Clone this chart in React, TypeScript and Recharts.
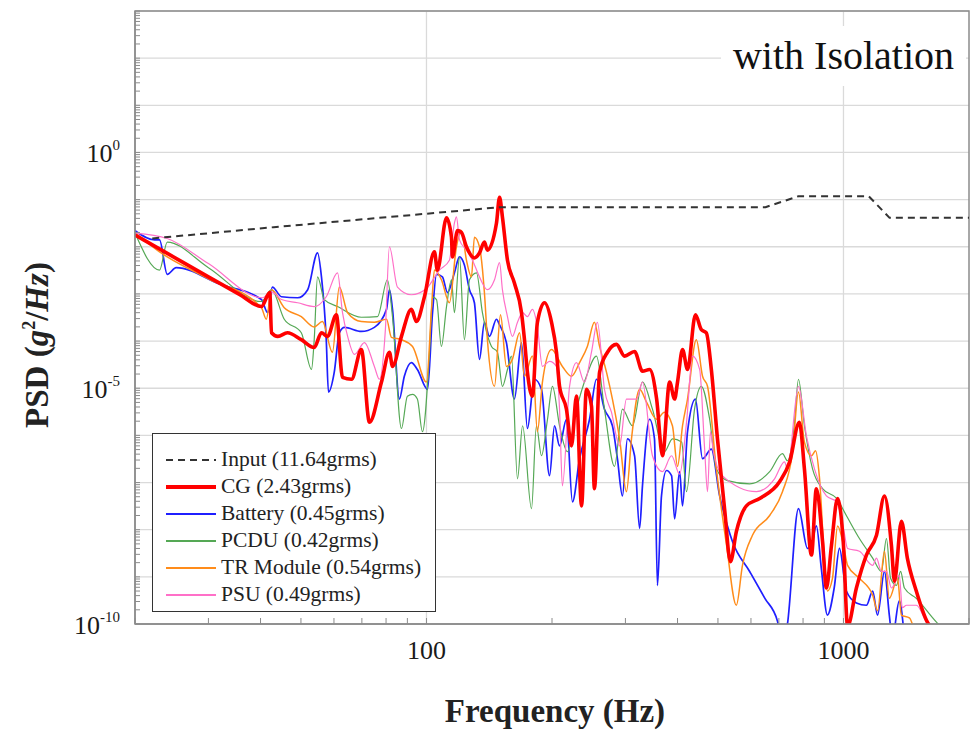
import React from 'react';
import { LineChart, Line, XAxis, YAxis, CartesianGrid, Legend, ReferenceArea } from 'recharts';

const FONT = "'Liberation Serif', 'Times New Roman', serif";
type Pt = [number, number];

// ---- data: [frequency Hz, PSD g^2/Hz] ----
const INPUT: Pt[] = [[22, 0.015], [43, 0.026], [150, 0.069], [650, 0.069], [780, 0.118], [1150, 0.118], [1290, 0.041], [2000, 0.041]];

const CG: Pt[] = [[20, 1.78e-2], [24.2, 6.8e-3], [30, 2.3e-3], [35.6, 9.8e-4], [40.2, 5.4e-4], [42.1, 1.07e-3], [42.5, 1.5e-4], [44.0, 1.26e-4], [46.4, 1.5e-4], [50.1, 1.07e-4], [53.8, 7.3e-5], [56.0, 1.5e-4], [57.9, 1.26e-4], [60.8, 3.6e-4], [62.9, 1.7e-5], [66.1, 1.55e-5], [69.8, 6.6e-5], [73.0, 1.9e-6], [78.0, 1.35e-5], [81.5, 5.8e-5], [82.9, 2.9e-5], [87.1, 1.26e-4], [92.0, 4.7e-4], [94.6, 2.6e-4], [98.9, 8.7e-4], [104.5, 7.8e-3], [106.2, 3.2e-3], [111.7, 4.1e-2], [114.8, 1.6e-2], [115.4, 6.1e-3], [118.7, 2.2e-2], [121.3, 2.0e-2], [124.7, 1.0e-2], [130.3, 5.8e-3], [134, 7.4e-3], [137.7, 1.26e-2], [140, 8.5e-3], [147.2, 3.2e-2], [149.7, 0.112], [152.1, 4.3e-2], [156.4, 5.2e-3], [162.5, 1.7e-3], [169, 4.0e-4], [171.8, 1.07e-4], [174.6, 2.2e-5], [179.5, 6.8e-6], [184.5, 2.5e-4], [191.9, 6.5e-4], [199.5, 2.5e-4], [205, 5.8e-5], [208.5, 1.1e-5], [216.6, 3.6e-6], [222.7, 6.0e-7], [229, 6.8e-6], [235.4, 3.2e-8], [241.9, 9.5e-6], [248.7, 4.2e-6], [252.8, 7.4e-8], [260.1, 2.2e-5], [271.7, 5.8e-5], [285.6, 8.5e-5], [298.5, 4.8e-5], [315.5, 6.0e-5], [329.6, 2.3e-5], [342.8, 2.5e-5], [356.4, 5.9e-6], [368.1, 3.7e-7], [382.9, 1.35e-5], [393.6, 5.9e-6], [400, 1.35e-5], [411.2, 6.6e-5], [422.7, 2.5e-5], [441.6, 3.6e-4], [456.2, 1.75e-4], [469, 1.5e-4], [482.1, 2.5e-5], [498.7, 8.4e-7], [518.6, 2.8e-8], [535.8, 2.1e-9], [553.5, 9.1e-9], [585.1, 3.2e-8], [629.6, 4.6e-8], [703.2, 1.05e-7], [743, 2.75e-7], [784, 1.9e-6], [806, 1.95e-7], [838, 2.9e-9], [861, 7.4e-8], [891, 5.6e-9], [910, 5.8e-10], [936, 4.7e-9], [968, 4.6e-8], [1000, 4.7e-9], [1023, 9e-11], [1074, 5.8e-10], [1135, 2.9e-9], [1200, 7.6e-9], [1254, 5.2e-8], [1303, 4.7e-9], [1325, 8.1e-10], [1377, 1.5e-8], [1423, 2.5e-9], [1495, 5.0e-10], [1581, 1.2e-10], [1650, 7e-11]];

const BATTERY: Pt[] = [[20, 2.2e-2], [22.3, 1.4e-2], [22.9, 1.4e-2], [23.9, 2.6e-3], [25.1, 3.6e-3], [32, 1.6e-3], [40.2, 7.6e-4], [41.6, 4.0e-4], [42.7, 1.4e-3], [44.9, 8.7e-4], [49.1, 8.3e-4], [51.9, 1.23e-3], [54.8, 7.4e-3], [56.0, 2.3e-3], [57.5, 1.07e-4], [58.2, 8.3e-6], [60.1, 2.2e-5], [61.8, 1.5e-4], [63.6, 1.95e-4], [69.8, 1.6e-4], [75.0, 1.95e-4], [80.2, 4.7e-4], [81.5, 1.23e-3], [82.9, 4.7e-4], [86.1, 5.9e-6], [88.5, 1.8e-5], [92.0, 3.5e-5], [95.1, 2.5e-5], [100.6, 9.5e-6], [103.4, 4.0e-4], [105.7, 2.6e-3], [109.2, 2.3e-3], [112.3, 1.07e-3], [116.7, 2.8e-3], [120, 6.1e-3], [123.3, 4.1e-3], [126.8, 1.23e-3], [130.3, 6.5e-4], [134, 4.1e-5], [137.7, 2.5e-4], [141.6, 1.26e-4], [147.2, 2.9e-4], [149.7, 2.2e-4], [155.5, 9.3e-5], [162.5, 5.9e-6], [169, 9.3e-5], [174.6, 1.4e-6], [181.5, 1.55e-5], [188.7, 9.5e-6], [197.3, 1.4e-7], [202.8, 1.6e-6], [208.5, 6.0e-7], [216.6, 2.2e-6], [223.9, 3.9e-8], [232.9, 3.2e-7], [246.1, 2.2e-6], [255.7, 1.55e-5], [267.2, 3.6e-6], [279.2, 1.6e-6], [287, 3.2e-7], [295.1, 5.2e-8], [303.3, 8.4e-7], [315.5, 3.7e-7], [324.4, 1.07e-8], [329.6, 8.5e-8], [342.8, 2.2e-6], [352.2, 8.4e-7], [358, 6.6e-10], [366.1, 5.2e-8], [376.4, 1.8e-7], [387, 1.4e-7], [393.6, 1.7e-8], [404.6, 1.7e-7], [411.2, 3.2e-8], [422.7, 1.2e-6], [441.6, 5.9e-6], [459.2, 3.2e-7], [482.1, 5.1e-7], [504.7, 5.2e-8], [527, 1.2e-8], [541.7, 5.6e-9], [595.7, 1.3e-9], [648, 3.5e-10], [694.5, 1.15e-10], [714, 3e-11], [734, 1.0e-10], [780, 2.8e-8], [820, 4.0e-9], [838, 4.7e-9], [861, 1.2e-8], [885, 1.5e-9], [915, 1.55e-10], [950, 5.8e-10], [978, 4.0e-9], [1016, 5.0e-10], [1074, 2.8e-10], [1135, 2.5e-10], [1175, 5.0e-10], [1207, 1.55e-10], [1254, 1.3e-9], [1288, 1.55e-10], [1310, 5e-11], [1361, 3.1e-10], [1400, 5e-11]];

const PCDU: Pt[] = [[20, 1.95e-2], [22.9, 3.2e-3], [23.9, 1.26e-2], [30, 3.6e-3], [40.2, 6.9e-4], [42.5, 1.23e-3], [45.6, 2.9e-4], [50.1, 1.5e-4], [53, 2.5e-5], [53.8, 1.07e-4], [54.8, 2.3e-3], [56.9, 7.6e-4], [61.2, 5.4e-4], [69.8, 3.2e-4], [76.3, 3.3e-4], [80.6, 2.0e-3], [82.9, 3.3e-4], [87.1, 1.4e-6], [90, 6.8e-6], [92.6, 7.4e-6], [95.1, 5.9e-6], [97.8, 1.2e-6], [101.7, 5.8e-5], [103.4, 8.7e-4], [105.7, 7.6e-4], [108.6, 7.7e-5], [111.7, 5.4e-4], [114.8, 2.0e-3], [116.7, 4.0e-4], [120, 6.1e-3], [123.3, 1.07e-4], [126.8, 2.0e-3], [131.8, 2.8e-3], [136.2, 4.0e-4], [143.2, 7.7e-5], [148, 5.8e-5], [152.1, 1.1e-5], [156.4, 2.5e-5], [159.9, 4.8e-5], [165.3, 1.2e-7], [170, 1.6e-6], [178.6, 2.8e-8], [183.5, 1.6e-6], [188.7, 3.7e-7], [195.1, 2.2e-6], [200.5, 1.1e-5], [208.5, 1.6e-6], [217.8, 4.5e-7], [229, 3.6e-6], [241.9, 1.8e-5], [255.7, 4.8e-5], [267.2, 3.6e-6], [282.4, 2.2e-7], [295.1, 3.6e-6], [311.9, 1.6e-6], [329.6, 1.35e-5], [348.3, 3.6e-6], [372.1, 4.5e-7], [388.9, 8.4e-7], [409.2, 7.2e-7], [420.4, 6.4e-8], [439.4, 3.6e-6], [456.2, 1.1e-5], [477.6, 2.2e-6], [495.6, 1.95e-7], [527, 1.1e-7], [595.7, 9.4e-8], [665.3, 1.7e-7], [714, 4.1e-7], [734, 2.9e-7], [762, 1.6e-6], [780, 1.55e-5], [806, 1.6e-6], [843, 1.95e-7], [891, 7.4e-8], [963, 4.6e-8], [1016, 2.0e-8], [1092, 6.5e-9], [1175, 2.5e-9], [1233, 1.3e-9], [1268, 6.5e-9], [1297, 9.3e-10], [1340, 6.6e-10], [1371, 1.3e-9], [1400, 5.8e-10], [1495, 3.5e-10], [1671, 1.1e-10], [1795, 6e-11]];

const TR_MODULE: Pt[] = [[20, 2.0e-2], [22.9, 7.8e-3], [23.9, 6.1e-3], [30, 2.1e-3], [40.2, 5.1e-4], [41.3, 2.9e-4], [42.5, 1.23e-3], [45.6, 5.1e-4], [50.1, 3.3e-4], [53.8, 2.0e-4], [56.3, 2.6e-4], [59.5, 5.8e-5], [61.8, 1.4e-3], [64.7, 4.0e-4], [69.8, 2.6e-4], [75, 2.5e-4], [80.2, 2.9e-4], [82.4, 1.2e-4], [87.1, 1.07e-4], [92.6, 7.7e-5], [100, 1.35e-5], [102.8, 4.7e-4], [104.5, 3.2e-3], [108.6, 2.0e-3], [113.5, 6.5e-4], [118, 1.0e-2], [121.3, 2.2e-2], [124.7, 5.2e-3], [128.2, 2.3e-3], [130.3, 1.6e-2], [134, 1.0e-2], [137.7, 1.07e-3], [140, 1.07e-4], [145.6, 1.1e-5], [150.5, 3.6e-4], [155.5, 2.9e-5], [160.7, 4.1e-5], [167.2, 1.5e-4], [171.8, 1.8e-5], [179.5, 4.8e-5], [184.5, 1.2e-6], [189.7, 1.35e-5], [199.5, 6.6e-5], [211.8, 2.9e-5], [222.7, 1.8e-5], [232.9, 3.5e-5], [243.1, 7.7e-5], [252.8, 2.5e-4], [260.1, 7.7e-5], [270.2, 2.2e-5], [279.2, 5.9e-6], [290.5, 8.4e-7], [301.7, 6.4e-8], [310.2, 8.4e-7], [324.4, 9.5e-6], [337.3, 5.0e-6], [356.4, 2.2e-6], [372.1, 3.1e-6], [388.9, 1.6e-6], [400, 2.2e-7], [411.2, 1.6e-6], [422.7, 5.9e-6], [443.8, 1.07e-4], [459.2, 1.8e-5], [472, 1.1e-5], [495.6, 1.95e-7], [524.3, 4.7e-9], [553.5, 2.5e-10], [572.5, 1.75e-9], [605, 7.6e-9], [665.3, 2.0e-8], [714, 6.4e-8], [755, 4.5e-7], [780, 8.3e-6], [806, 7.2e-7], [838, 3.7e-7], [857, 4.7e-7], [875, 1.4e-7], [900, 2.5e-9], [915, 5.0e-10], [941, 9.3e-10], [968, 1.2e-8], [1000, 4.7e-9], [1023, 1.75e-9], [1092, 9.3e-10], [1175, 4.1e-10], [1207, 1.9e-10], [1254, 3.5e-9], [1288, 3.5e-10], [1348, 9.3e-10], [1377, 1.55e-10], [1439, 1.35e-10], [1495, 5e-11]];

const PSU: Pt[] = [[20, 1.95e-2], [23.9, 1.5e-2], [30, 4.4e-3], [40.4, 8.3e-4], [42.5, 1.1e-3], [44.9, 7.6e-4], [49.1, 6.5e-4], [53.8, 5.4e-4], [57.5, 8.7e-4], [61.2, 2.8e-3], [62.9, 4.0e-4], [64.7, 1.26e-4], [67.2, 5.2e-5], [71, 9.3e-5], [75, 2.9e-5], [77.1, 1.55e-5], [79.7, 1.75e-4], [81.5, 1.0e-2], [85.2, 1.4e-3], [92, 9.6e-4], [100, 1.3e-3], [107.4, 3.2e-3], [113.5, 5.2e-3], [116.7, 3.2e-2], [118, 4.3e-2], [120, 1.4e-2], [124.7, 8.5e-3], [128.9, 5.2e-3], [134, 2.3e-3], [140, 1.23e-3], [145.6, 2.0e-3], [149.7, 4.6e-3], [152.1, 1.23e-3], [156.4, 3.3e-4], [160.7, 1.26e-4], [165.3, 2.5e-4], [170, 4.0e-4], [174.6, 3.3e-4], [179.5, 4.7e-4], [184.5, 2.0e-4], [189.7, 2.9e-5], [197.3, 3.7e-5], [205, 2.9e-5], [208.5, 3.6e-6], [211.8, 8.5e-8], [220.4, 1.1e-5], [229, 3.5e-5], [239.2, 1.35e-5], [248.7, 5.8e-5], [257, 2.5e-4], [267.2, 9.5e-6], [277.7, 3.1e-6], [290.5, 6.0e-7], [301.7, 5.9e-6], [319.1, 5.9e-6], [329.6, 1.35e-5], [348.3, 3.7e-7], [368.1, 1.7e-7], [387, 3.7e-7], [404.6, 1.5e-7], [420.4, 1.9e-6], [434.5, 4.8e-5], [451.9, 2.5e-5], [464.6, 5.1e-7], [472, 6.4e-8], [479.8, 1.2e-6], [487.6, 4.5e-7], [512.2, 1.4e-7], [618.6, 6.4e-8], [683.5, 1.2e-7], [722, 2.75e-7], [734, 1.95e-7], [780, 1.1e-5], [815, 9.8e-7], [852, 1.95e-7], [910, 5.2e-8], [963, 3.9e-8], [1000, 1.07e-8], [1023, 4.0e-9], [1092, 3.5e-9], [1175, 1.75e-9], [1200, 2.5e-9], [1233, 1.3e-9], [1268, 1.3e-9], [1303, 5.8e-10], [1361, 1.07e-9], [1384, 2.2e-10], [1416, 2.5e-10], [1495, 2.5e-10], [1581, 1.1e-10], [1698, 5e-11]];

// ---- axes ----
const X_DOMAIN: [number, number] = [20, 2000];
const Y_DOMAIN: [number, number] = [1e-10, 1e3];
const X_TICKS = [20, 30, 40, 50, 60, 70, 80, 90, 100, 200, 300, 400, 500, 600, 700, 800, 900, 1000, 2000];
const X_TICK_LABELS = [100, 1000];
const X_GRID = [100, 1000];
const Y_DECADES = [-10, -9, -8, -7, -6, -5, -4, -3, -2, -1, 0, 1, 2, 3];
const Y_LABEL_EXPONENTS = [0, -5, -10];
const Y_MINOR_MULTIPLIERS = [1, 2, 3, 4, 5, 6, 7, 8, 9];

const Y_GRID = Y_DECADES.map((e) => Math.pow(10, e));
const Y_TICKS: number[] = [];
Y_DECADES.forEach((e) => {
  if (e === 3) { Y_TICKS.push(1e3); return; }
  Y_MINOR_MULTIPLIERS.forEach((m) => Y_TICKS.push(m * Math.pow(10, e)));
});

const SERIES = [
  { key: 'input', name: 'Input (11.64grms)', color: '#333333', width: 2, dash: '7 5', pts: INPUT },
  { key: 'cg', name: 'CG (2.43grms)', color: '#ff0000', width: 3.6, dash: undefined, pts: CG },
  { key: 'battery', name: 'Battery (0.45grms)', color: '#1f1fff', width: 1.7, dash: undefined, pts: BATTERY },
  { key: 'pcdu', name: 'PCDU (0.42grms)', color: '#55a855', width: 1.2, dash: undefined, pts: PCDU },
  { key: 'tr', name: 'TR Module (0.54grms)', color: '#ff8c1a', width: 1.5, dash: undefined, pts: TR_MODULE },
  { key: 'psu', name: 'PSU (0.49grms)', color: '#ff70c8', width: 1.2, dash: undefined, pts: PSU },
];
const DRAW_ORDER = ['battery', 'pcdu', 'tr', 'psu', 'cg', 'input'];

const toRows = (pts: Pt[]) => pts.map(([f, v]) => ({ f, v }));

const AXIS_GRAY = '#8c8c8c';

function YTick(props: any) {
  const { x, y, payload } = props;
  const v = payload.value as number;
  const e = Math.round(Math.log10(v));
  const isDecade = Math.abs(v / Math.pow(10, e) - 1) < 1e-6;
  return (
    <g>
      <line x1={x} x2={x + 5} y1={y} y2={y} stroke={AXIS_GRAY} strokeWidth={1} />
      {isDecade && Y_LABEL_EXPONENTS.includes(e) && (
        <text x={x - 15} y={y + 10} textAnchor="end" fontFamily={FONT} fontSize={26} fill="#1a1a1a">
          10<tspan dy={-12} fontSize={15}>{e}</tspan>
        </text>
      )}
    </g>
  );
}

function XTick(props: any) {
  const { x, y, payload } = props;
  const v = payload.value as number;
  return (
    <g>
      <line x1={x} x2={x} y1={y} y2={y - 6} stroke={AXIS_GRAY} strokeWidth={1} />
      {X_TICK_LABELS.includes(v) && (
        <text x={x} y={y + 35} textAnchor="middle" fontFamily={FONT} fontSize={26} fill="#1a1a1a">{v}</text>
      )}
    </g>
  );
}

function YLabel() {
  const cx = 48, cy = 345;
  return (
    <text x={cx} y={cy} transform={`rotate(-90 ${cx} ${cy})`} textAnchor="middle" fontFamily={FONT} fontSize={33} fontWeight="bold" fill="#222">
      PSD (<tspan fontStyle="italic">g</tspan><tspan dy={-13} fontSize={18}>2</tspan><tspan dy={13}>/</tspan><tspan fontStyle="italic">Hz</tspan>)
    </text>
  );
}

function XLabel(props: any) {
  const vb = props.viewBox || { x: 135, y: 624, width: 834 };
  return (
    <text x={vb.x + vb.width / 2 + 3} y={vb.y + 98} textAnchor="middle" fontFamily={FONT} fontSize={33} fontWeight="bold" fill="#222">
      Frequency (Hz)
    </text>
  );
}

function LegendBox() {
  return (
    <div style={{ boxSizing: 'border-box', width: 284, height: 179, border: '1.5px solid #333', background: '#fff', padding: '12px 0 0 13px', fontFamily: FONT, fontSize: 21.5, color: '#222' }}>
      {SERIES.map((s) => (
        <div key={s.key} style={{ display: 'flex', alignItems: 'center', height: 27, whiteSpace: 'nowrap' }}>
          <svg width={50} height={10} style={{ flex: 'none' }}>
            <line x1={0} x2={50} y1={5} y2={5} stroke={s.color} strokeWidth={s.key === 'cg' ? 4 : 2} strokeDasharray={s.key === 'input' ? '7 5' : undefined} />
          </svg>
          <span style={{ marginLeft: 5 }}>{s.name}</span>
        </div>
      ))}
    </div>
  );
}

export default function App() {
  return (
    <div style={{ position: 'absolute', left: 0, top: 0, width: 970, height: 733, background: '#fff' }}>
      <LineChart width={970} height={733} margin={{ top: 11, right: 1, bottom: 0, left: 0 }}>
        <CartesianGrid stroke="#dadada" strokeWidth={1.3} horizontalValues={Y_GRID} verticalValues={X_GRID} />
        <XAxis
          dataKey="f"
          type="number"
          scale="log"
          domain={X_DOMAIN}
          allowDataOverflow
          ticks={X_TICKS}
          interval={0}
          tick={<XTick />}
          tickLine={false}
          tickSize={0}
          tickMargin={0}
          height={109}
          axisLine={{ stroke: AXIS_GRAY, strokeWidth: 1.5 }}
          label={<XLabel />}
        />
        <YAxis
          type="number"
          scale="log"
          domain={Y_DOMAIN}
          allowDataOverflow
          ticks={Y_TICKS}
          interval={0}
          tick={<YTick />}
          tickLine={false}
          tickSize={0}
          tickMargin={0}
          width={135}
          axisLine={{ stroke: AXIS_GRAY, strokeWidth: 1.5 }}
          label={<YLabel />}
        />
        <ReferenceArea x1={X_DOMAIN[0]} x2={X_DOMAIN[1]} y1={Y_DOMAIN[0]} y2={Y_DOMAIN[1]} fill="none" stroke={AXIS_GRAY} strokeWidth={1.5} />
        {DRAW_ORDER.map((k) => {
          const s = SERIES.find((q) => q.key === k)!;
          return (
            <Line
              key={s.key}
              data={toRows(s.pts)}
              dataKey="v"
              name={s.name}
              type={s.key === 'input' ? 'linear' : 'monotoneX'}
              stroke={s.color}
              strokeWidth={s.width}
              strokeDasharray={s.dash}
              strokeLinejoin="round"
              dot={false}
              activeDot={false}
              isAnimationActive={false}
            />
          );
        })}
        <Legend layout="vertical" align="center" verticalAlign="middle" content={<LegendBox />} wrapperStyle={{ left: 152, top: 433, width: 284, height: 179 }} />
      </LineChart>
      <div style={{ position: 'absolute', left: 721, top: 26, width: 245, height: 60, background: '#fff', fontFamily: FONT, fontSize: 40, color: '#111', textAlign: 'center', lineHeight: '60px' }}>
        with Isolation
      </div>
    </div>
  );
}
